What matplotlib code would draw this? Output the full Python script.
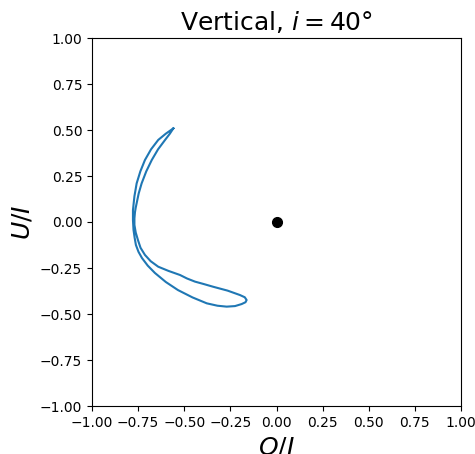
import matplotlib
matplotlib.use("Agg")
import matplotlib.pyplot as plt
import matplotlib.ticker
import numpy as np

# Loop of (Q/I, U/I)
q_vals = [-0.559, -0.600, -0.641, -0.680, -0.713, -0.738, -0.758, -0.770, -0.778, -0.778,
          -0.775, -0.769, -0.762, -0.748, -0.729, -0.698, -0.659, -0.600, -0.534, -0.455,
          -0.378, -0.320, -0.270, -0.225, -0.189, -0.168, -0.162, -0.172, -0.198, -0.265,
          -0.343, -0.395, -0.442, -0.485, -0.523, -0.585, -0.641, -0.682, -0.713, -0.737,
          -0.751, -0.763, -0.770, -0.770, -0.767, -0.763, -0.758, -0.747, -0.731, -0.706,
          -0.676, -0.642, -0.604, -0.578, -0.559]
u_vals = [0.509, 0.480, 0.446, 0.395, 0.337, 0.275, 0.210, 0.140, 0.065, 0.010,
          -0.043, -0.085, -0.125, -0.162, -0.196, -0.237, -0.277, -0.326, -0.370, -0.410,
          -0.442, -0.455, -0.460, -0.457, -0.446, -0.436, -0.424, -0.409, -0.397, -0.373,
          -0.352, -0.337, -0.324, -0.307, -0.288, -0.266, -0.243, -0.213, -0.179, -0.140,
          -0.098, -0.057, -0.016, 0.020, 0.054, 0.078, 0.102, 0.155, 0.210, 0.275,
          0.337, 0.395, 0.446, 0.480, 0.509]

center_q = [0.0]
center_u = [0.0]

ticks = [-1.00, -0.75, -0.50, -0.25, 0.00, 0.25, 0.50, 0.75, 1.00]

plt.rcParams['axes.unicode_minus'] = True

fig = plt.figure(figsize=(4.75, 4.54), dpi=100)
ax = fig.add_axes([92/475, 1 - 406/454, 369/475, 368/454])
ax.plot(q_vals, u_vals, color="#1f77b4", lw=1.5)
ax.plot(center_q, center_u, "o", color="black", markersize=7)
ax.set_xlim(-1, 1)
ax.set_ylim(-1, 1)
ax.set_xticks(ticks)
ax.set_yticks(ticks)
ax.set_xticklabels([f"{t:.2f}".replace("-", "\u2212") for t in ticks])
ax.set_yticklabels([f"{t:.2f}".replace("-", "\u2212") for t in ticks])
ax.tick_params(labelsize=10)
ax.set_xlabel("$Q/I$", fontsize=18)
ax.set_ylabel("$U/I$", fontsize=18)
ax.set_title(r"Vertical, $i = 40°$", fontsize=18)
fig.savefig("out.png", dpi=100)
